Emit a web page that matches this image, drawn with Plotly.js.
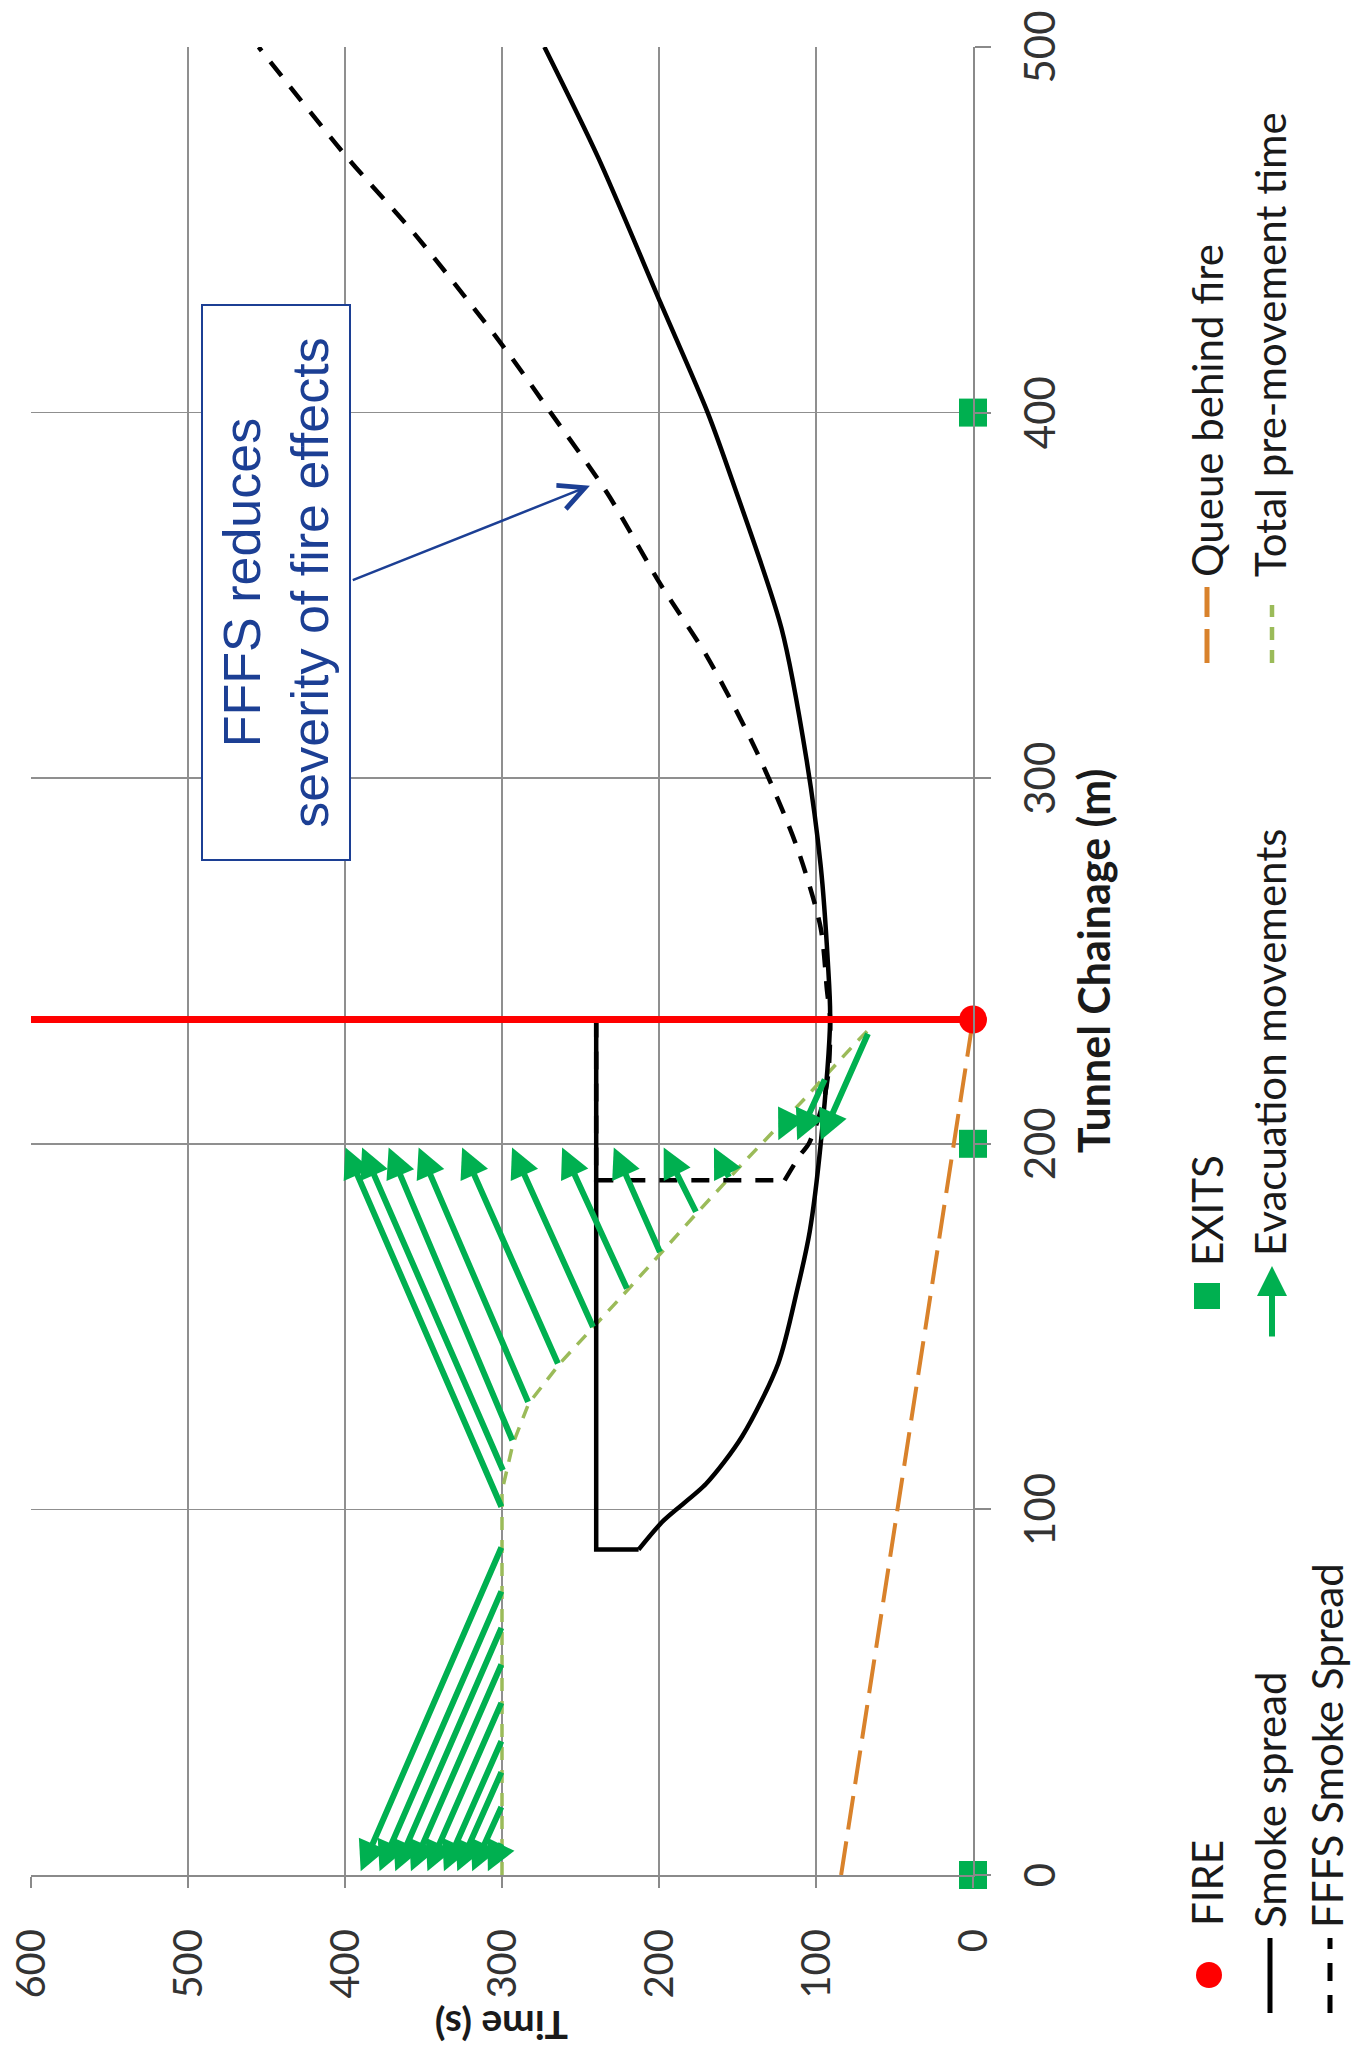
<!DOCTYPE html>
<html>
<head>
<meta charset="utf-8">
<script src="https://cdn.plot.ly/plotly-3.0.1.min.js"></script>
<style>
html,body{margin:0;padding:0;width:1356px;height:2055px;overflow:hidden;background:#fff;}
#wrap{position:absolute;left:0;top:0;width:2055px;height:1356px;transform-origin:0 0;transform:translate(0px,2055px) rotate(-90deg);}
</style>
</head>
<body>
<div id="wrap"><div id="chart" style="width:2055px;height:1356px;"></div></div>
<script>
// ---------- data (x = tunnel chainage in m, y = time in s) ----------
const chainageTicks = [0, 100, 200, 300, 400, 500];
const timeTicks = [0, 100, 200, 300, 400, 500, 600];

const fireX = [234];
const fireY = [0];
const fireLineX = [234, 234];
const fireLineY = [0, 600];

const exitX = [0, 200, 400];
const exitY = [0, 0, 0];

const smokeX = [234, 89, 89, 97, 107, 120, 140, 160, 176, 200, 234, 250, 276, 305, 341, 381, 400, 430, 470, 500];
const smokeY = [240, 240, 213, 197, 170, 147, 124, 112, 104, 97, 91, 92.5, 97, 106, 122, 153, 169, 199, 239, 273];

const fffsX = [234, 190, 190, 197, 200, 212, 220, 234, 242, 259, 281, 307, 333, 353, 378, 400, 418, 448, 470, 500];
const fffsY = [240, 240, 120, 110, 104.6, 95, 92, 91, 93, 97, 112, 137.5, 169, 199, 233, 269, 299, 354, 399, 455];

const queueX = [0, 234];
const queueY = [84, 0];

const preX = [0, 105, 118, 129, 140, 151, 160, 170, 181, 194, 212, 227, 231];
const preY = [300, 300, 293, 283, 263, 239, 220, 199, 176, 148, 108, 76, 67];

// evacuation movements: start (x0,y0) -> end (x1,y1)
const evacX0 = [9, 19, 28.5, 37, 47.5, 58, 68, 78, 90,
                100.3, 110.3, 118.5, 129, 139.5, 149.5, 160, 170, 181, 190.5,
                208, 218, 230.5];
const evacY0 = [300, 300, 300, 300, 300, 300, 300, 300, 300,
                300, 299, 293, 283, 264, 241.6, 220, 199, 176, 155,
                116, 94, 66.5];
const evacX1 = [1, 1, 1, 1, 1, 1, 1, 1, 1,
                199, 199, 199, 199, 199, 199, 199, 199, 199, 199,
                201, 201, 201];
const evacY1 = [309, 319, 328.5, 337, 347.5, 358, 368, 378, 390,
                399.7, 389.1, 372.2, 353.1, 325.4, 293.6, 261.7, 228.8, 197, 165,
                124, 112, 97];

const legendNames = ['FIRE', 'EXITS', 'Queue behind fire', 'Smoke spread', 'Evacuation movements', 'Total pre-movement time', 'FFFS Smoke Spread'];
const xTitle = 'Tunnel Chainage (m)';
const yTitle = 'Time (s)';
const noteText = 'FFFS reduces<br>severity of fire effects';
const noteX = 353.6, noteY = 444;
const noteArrowTail = [354, 396];
const noteArrowTip = [380, 244];

// ---------- styling ----------
const GREEN = '#00B050', RED = '#FF0000', ORANGE = '#D9822B', LGREEN = '#9BBB59', BLUE = '#1C3F94';
const W = 2055, H = 1356, ML = 180, MR = 47, MT = 31, MB = 383;
const PW = W - ML - MR, PH = H - MT - MB;
const px = v => (v - ML) / PW;
const py = v => (H - MB - v) / PH;
const FONT = 'Lato, "Open Sans", sans-serif';
const TXT = '#1a1a1a';

const traces = [
  {x: queueX, y: queueY, mode: 'lines', line: {color: ORANGE, width: 4, dash: '34px,12px'}},
  {x: preX, y: preY, mode: 'lines', line: {color: LGREEN, width: 3.5, dash: '13px,10px'}},
  {x: smokeX.slice(0, 3), y: smokeY.slice(0, 3), mode: 'lines', line: {color: '#000', width: 4.5}},
  {x: smokeX.slice(2), y: smokeY.slice(2), mode: 'lines', line: {color: '#000', width: 4.5, shape: 'spline', smoothing: 0.8}},
  {x: fffsX.slice(0, 3), y: fffsY.slice(0, 3), mode: 'lines', line: {color: '#000', width: 4.5, dash: '18px,14px'}},
  {x: fffsX.slice(2), y: fffsY.slice(2), mode: 'lines', line: {color: '#000', width: 4.5, dash: '18px,14px', shape: 'spline', smoothing: 0.8}},
  {x: fireLineX, y: fireLineY, mode: 'lines', line: {color: RED, width: 7}},
  {x: exitX, y: exitY, mode: 'markers', marker: {symbol: 'square', size: 28, color: GREEN}, cliponaxis: false},
  {x: fireX, y: fireY, mode: 'markers', marker: {symbol: 'circle', size: 28, color: RED}, cliponaxis: false}
].map(t => Object.assign(t, {type: 'scatter', showlegend: false, hoverinfo: 'skip'}));

const annotations = [];
for (let i = 0; i < evacX0.length; i++) {
  annotations.push({x: evacX1[i], y: evacY1[i], ax: evacX0[i], ay: evacY0[i],
    xref: 'x', yref: 'y', axref: 'x', ayref: 'y', text: '', showarrow: true,
    arrowhead: 2, arrowsize: 1, arrowwidth: 6, arrowcolor: GREEN, standoff: 0});
}
annotations.push({x: noteArrowTip[0], y: noteArrowTip[1], ax: noteArrowTail[0], ay: noteArrowTail[1],
  xref: 'x', yref: 'y', axref: 'x', ayref: 'y', text: '', showarrow: true,
  arrowhead: 5, arrowsize: 2, arrowwidth: 2.5, arrowcolor: BLUE});
annotations.push({x: noteX, y: noteY, xref: 'x', yref: 'y', text: noteText, showarrow: false,
  font: {family: '"Liberation Sans", Arial, sans-serif', size: 52, color: BLUE},
  align: 'center', width: 553, height: 146, bgcolor: '#fff', bordercolor: BLUE, borderwidth: 2, borderpad: 0});

// time-axis title
annotations.push({x: px(29), y: 0.5, xref: 'paper', yref: 'paper', xanchor: 'center', yanchor: 'middle',
  text: yTitle, textangle: -90, showarrow: false, font: {family: FONT, size: 39, color: TXT, weight: 700}});

// legend (manual, three columns)
const legText = [
  [127, 1207, legendNames[0]], [787, 1207, legendNames[1]], [1476, 1207, legendNames[2]],
  [125, 1270, legendNames[3]], [797, 1270, legendNames[4]], [1476, 1270, legendNames[5]],
  [125, 1327, legendNames[6]]
];
legText.forEach(([x, y, t]) => annotations.push({x: px(x), y: py(y), xref: 'paper', yref: 'paper',
  xanchor: 'left', yanchor: 'middle', text: t, showarrow: false, font: {family: FONT, size: 42, color: TXT}}));
annotations.push({x: px(789), y: py(1272), xref: 'paper', yref: 'paper', ax: -72, ay: 0, text: '',
  showarrow: true, arrowhead: 2, arrowsize: 1, arrowwidth: 6, arrowcolor: GREEN});

const shapes = [
  {type: 'circle', xref: 'paper', yref: 'paper', x0: px(67), x1: px(93), y0: py(1222), y1: py(1196), fillcolor: RED, line: {width: 0}},
  {type: 'rect', xref: 'paper', yref: 'paper', x0: px(746), x1: px(772), y0: py(1220), y1: py(1194), fillcolor: GREEN, line: {width: 0}},
  {type: 'line', xref: 'paper', yref: 'paper', x0: px(42), x1: px(117), y0: py(1270), y1: py(1270), line: {color: '#000', width: 5}},
  {type: 'line', xref: 'paper', yref: 'paper', x0: px(42), x1: px(117), y0: py(1330), y1: py(1330), line: {color: '#000', width: 5, dash: '18px,14px'}},
  {type: 'line', xref: 'paper', yref: 'paper', x0: px(1392), x1: px(1468), y0: py(1207), y1: py(1207), line: {color: ORANGE, width: 5, dash: '34px,12px'}},
  {type: 'line', xref: 'paper', yref: 'paper', x0: px(1392), x1: px(1450), y0: py(1272), y1: py(1272), line: {color: LGREEN, width: 4.5, dash: '13px,10px'}}
];

const axisCommon = {showgrid: true, gridcolor: '#8f8f8f', gridwidth: 1.5, zeroline: false,
  showline: true, linecolor: '#8a8a8a', linewidth: 2, ticks: 'outside', tickcolor: '#8a8a8a', tickwidth: 2,
  fixedrange: true};

const layout = {
  width: W, height: H, margin: {l: ML, r: MR, t: MT, b: MB},
  paper_bgcolor: '#fff', plot_bgcolor: '#fff', showlegend: false,
  xaxis: Object.assign({}, axisCommon, {range: [0, 500], tickvals: chainageTicks, ticklen: 16, ticklabelstandoff: 14,
    tickfont: {family: FONT, size: 42, color: '#333'},
    title: {text: xTitle, font: {family: FONT, size: 43, color: TXT, weight: 700}, standoff: 16}}),
  yaxis: Object.assign({}, axisCommon, {range: [0, 600], tickvals: timeTicks, ticklen: 11, ticklabelstandoff: 33,
    tickfont: {family: FONT, size: 40, color: '#333'}}),
  annotations: annotations, shapes: shapes
};

Plotly.newPlot('chart', traces, layout, {staticPlot: true, displayModeBar: false});
</script>
</body>
</html>
